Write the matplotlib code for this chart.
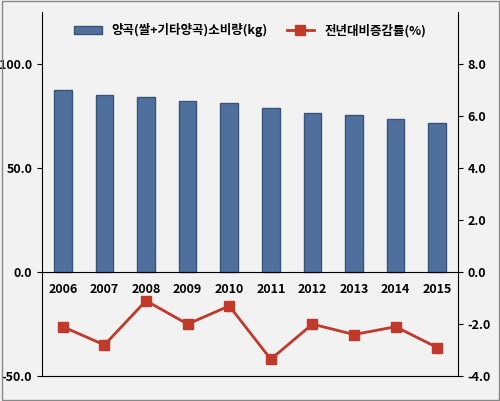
import numpy as np
import matplotlib.pyplot as plt

plt.rcParams['font.family'] = ['Noto Sans CJK KR', 'DejaVu Sans']

years = ['2006', '2007', '2008', '2009', '2010', '2011', '2012', '2013', '2014', '2015']
consumption = [87.5, 85.1, 84.1, 82.2, 81.3, 78.8, 76.4, 75.5, 73.6, 71.6]
change = [-2.1, -2.8, -1.1, -2.0, -1.3, -3.35, -2.0, -2.4, -2.1, -2.9]

fig = plt.figure(figsize=(5.0, 4.01), dpi=100, facecolor='#f2f2f2')
fig.patches.append(plt.Rectangle((0.003, 0.003), 0.994, 0.994, transform=fig.transFigure,
                                 fill=False, edgecolor='#888888', linewidth=1))
ax = fig.add_axes([0.084, 0.062, 0.832, 0.908])
ax.set_facecolor('none')
x = np.arange(len(years))
bars = ax.bar(x, consumption, width=0.42, color='#4f6f9c', edgecolor='#3a5478',
              label='양곡(쌀+기타양곡)소비량(kg)')
ax.set_ylim(-50, 125)
ax.set_yticks([-50, 0, 50, 100])
ax.set_yticklabels(['-50.0', '0.0', '50.0', '100.0'], fontweight='bold', fontsize=9)
ax.set_xlim(-0.5, len(years) - 0.5)
ax.spines['bottom'].set_position(('data', 0))
ax.spines['top'].set_visible(False)
ax.spines['right'].set_visible(False)
ax.set_xticks(x)
ax.set_xticklabels(years, fontweight='bold', fontsize=9)
ax.tick_params(axis='x', length=0, pad=8)

ax2 = ax.twinx()
ax2.plot(x, change, color='#c0392b', marker='s', markersize=7, linewidth=2,
         label='전년대비증감률(%)')
ax2.set_ylim(-4, 10)
ax2.set_yticks([-4, -2, 0, 2, 4, 6, 8])
ax2.set_yticklabels(['-4.0', '-2.0', '0.0', '2.0', '4.0', '6.0', '8.0'],
                    fontweight='bold', fontsize=9)
ax2.spines['top'].set_visible(False)
ax2.spines['left'].set_visible(False)

h1, l1 = ax.get_legend_handles_labels()
h2, l2 = ax2.get_legend_handles_labels()
ax.legend(h1 + h2, l1 + l2, loc='upper center', ncol=2, frameon=False,
          fontsize=9, prop={'weight': 'bold', 'size': 9}, bbox_to_anchor=(0.5, 1.0),
          handlelength=2.2, columnspacing=1.5)

fig.savefig('out.png', dpi=100, facecolor=fig.get_facecolor())
